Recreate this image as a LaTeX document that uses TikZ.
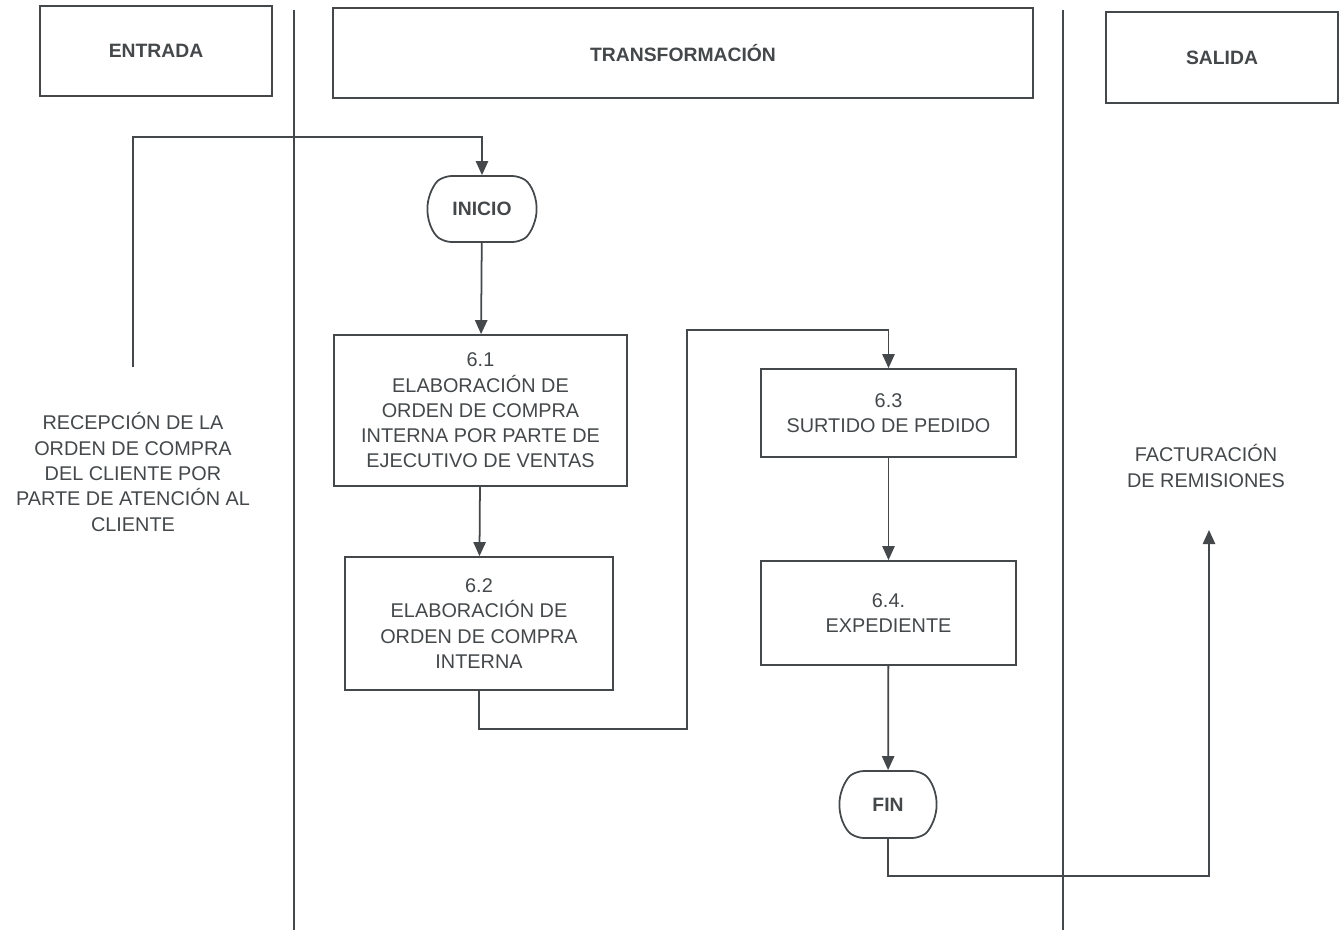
\documentclass[tikz,border=0pt]{standalone}
\usepackage{fontspec}
\setmainfont{Liberation Sans}
\usepackage{xcolor}
\usetikzlibrary{arrows.meta, shapes.misc}
\definecolor{ink}{RGB}{68,72,74}

\begin{document}
\begin{tikzpicture}[x=0.2mm, y=-0.2mm, line width=1pt]
			\tikzstyle{every node}=[text=ink, font=\fontsize{11.3}{14.4}\selectfont, align=center]
			\tikzstyle{head}=[draw=ink, rectangle, font=\bfseries\fontsize{11}{13}\selectfont]
			\tikzstyle{proc}=[draw=ink, rectangle, inner sep=2pt]
			\tikzstyle{term}=[draw=ink, rounded rectangle, rounded rectangle arc length=110, rounded corners=4pt, font=\bfseries\fontsize{11}{13}\selectfont]
			\tikzstyle{flow}=[draw=ink, -{Triangle[length=8pt, width=7pt]}]
			\useasboundingbox (0,0) rectangle (1340,930);
			\draw[ink] (294,10) -- (294,930);
			\draw[ink] (1063,10) -- (1063,930);
			\node[head, minimum width=46.4mm, minimum height=18mm] (entrada) at (156,51) {ENTRADA};
			\node[head, minimum width=140mm, minimum height=18mm] (transf) at (683,53) {TRANSFORMACIÓN};
			\node[head, minimum width=46.4mm, minimum height=18.2mm] (salida) at (1222,57.5) {SALIDA};
			\node (recep) at (133,472) {RECEPCIÓN DE LA\\ORDEN DE COMPRA\\DEL CLIENTE POR\\PARTE DE ATENCIÓN AL\\CLIENTE};
			\node[term, minimum width=24.2mm, minimum height=13.2mm] (inicio) at (482,209) {INICIO};
			\node[proc, minimum width=58.6mm, minimum height=30.2mm] (p61) at (480.5,410.5) {6.1\\ELABORACIÓN DE\\ORDEN DE COMPRA\\INTERNA POR PARTE DE\\EJECUTIVO DE VENTAS};
			\node[proc, minimum width=53.6mm, minimum height=26.6mm] (p62) at (479,623.5) {6.2\\ELABORACIÓN DE\\ORDEN DE COMPRA\\INTERNA};
			\node[proc, minimum width=51mm, minimum height=17.6mm] (p63) at (888.5,413) {6.3\\SURTIDO DE PEDIDO};
			\node[proc, minimum width=51mm, minimum height=20.8mm] (p64) at (888.5,613) {6.4.\\EXPEDIENTE};
			\node[term, minimum width=21.8mm, minimum height=13.4mm] (fin) at (888,804.5) {FIN};
			\node (fact) at (1206,466) {FACTURACIÓN\\DE REMISIONES};
			\coordinate (c0) at (133,367);
			\coordinate (c1) at (1209,530);
			\draw[flow] (c0) -- (133,137) -| (inicio.north);
			\draw[flow] (inicio) -- (p61);
			\draw[flow] (p61) -- (p62);
			\draw[flow] (p62.south) |- (687,729) -- (687,330) -| (p63.north);
			\draw[flow] (p63) -- (p64);
			\draw[flow] (p64) -- (fin);
			\draw[flow] (fin.south) |- (1209,876) -- (c1);
		\end{tikzpicture}
\end{document}
